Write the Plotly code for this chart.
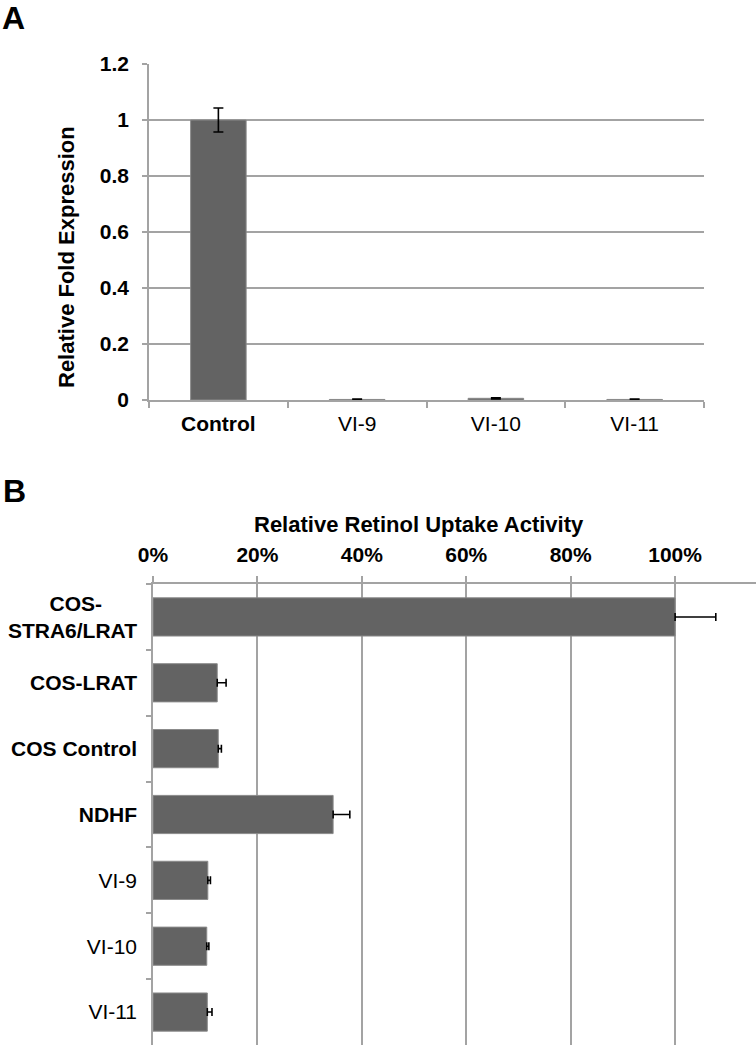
import plotly.graph_objects as go

# ---------------- data ----------------
a_categories = ["Control", "VI-9", "VI-10", "VI-11"]
a_values = [1.0, 0.002, 0.006, 0.002]
a_errors = [0.043, 0.001, 0.002, 0.001]
a_bold = [True, False, False, False]
a_yticks = [0, 0.2, 0.4, 0.6, 0.8, 1.0, 1.2]
a_yticklabels = ["0", "0.2", "0.4", "0.6", "0.8", "1", "1.2"]

b_categories = ["COS-STRA6/LRAT", "COS-LRAT", "COS Control", "NDHF", "VI-9", "VI-10", "VI-11"]
b_labels = ["COS-" + "&nbsp;" * 6 + "<br>STRA6/LRAT", "COS-LRAT", "COS Control", "NDHF", "VI-9", "VI-10", "VI-11"]
b_values = [1.0, 0.123, 0.125, 0.345, 0.105, 0.103, 0.104]
b_errors = [0.078, 0.017, 0.006, 0.032, 0.005, 0.004, 0.009]
b_bold = [True, True, True, True, False, False, False]
b_xticks = [0, 0.2, 0.4, 0.6, 0.8, 1.0]
b_xticklabels = ["0%", "20%", "40%", "60%", "80%", "100%"]

W, H = 756, 1050
FONT = "Liberation Sans, Arial, sans-serif"
BAR = "#636363"
GRID = "#a3a3a3"
FS = 21


def px(x):
    return x / W


def py(y):
    return 1 - y / H


def bold(t, b):
    return f"<b>{t}</b>" if b else t


fig = go.Figure()

fig.add_trace(go.Bar(
    x=a_categories, y=a_values, width=0.4,
    error_y=dict(type="data", array=a_errors, color="black", thickness=1.6, width=5),
    marker=dict(color=BAR, line=dict(color="#8a8a8a", width=1)),
    xaxis="x", yaxis="y", showlegend=False,
))

fig.add_trace(go.Bar(
    y=b_categories, x=b_values, orientation="h", width=0.58,
    error_x=dict(type="data", array=b_errors, arrayminus=[0] * len(b_errors),
                 color="black", thickness=1.6, width=4),
    marker=dict(color=BAR, line=dict(color="#8a8a8a", width=1)),
    xaxis="x2", yaxis="y2", showlegend=False,
))

tickfont = dict(size=FS, family=FONT, color="black")

fig.update_layout(
    width=W, height=H,
    margin=dict(l=0, r=0, t=0, b=0, pad=0),
    paper_bgcolor="white", plot_bgcolor="white",
    font=dict(family=FONT, color="black", size=FS),
    xaxis=dict(
        domain=[px(149), px(704)], anchor="y", automargin=False,
        type="category",
        tickmode="array", tickvals=a_categories,
        ticktext=[bold(c, b) for c, b in zip(a_categories, a_bold)],
        tickson="boundaries", ticks="outside", ticklen=6, tickcolor=GRID, tickwidth=1.5,
        showline=True, linecolor=GRID, linewidth=1.5,
        showgrid=False, zeroline=False,
        tickfont=tickfont, ticklabelstandoff=4,
    ),
    yaxis=dict(
        domain=[py(400), py(64)], anchor="x", automargin=False,
        range=[0, 1.2],
        tickmode="array", tickvals=a_yticks,
        ticktext=[f"<b>{t}</b>" for t in a_yticklabels],
        ticks="outside", ticklen=5, tickcolor=GRID, tickwidth=1.5,
        showline=True, linecolor=GRID, linewidth=1.5,
        showgrid=True, gridcolor=GRID, gridwidth=1.5,
        zeroline=False,
        tickfont=tickfont, ticklabelstandoff=9,
    ),
    xaxis2=dict(
        domain=[px(153), 1.0], anchor="y2", side="top", automargin=False,
        range=[0, 1.155],
        tickmode="array", tickvals=b_xticks,
        ticktext=[f"<b>{t}</b>" for t in b_xticklabels],
        ticks="outside", ticklen=6, tickcolor=GRID, tickwidth=1.5,
        showline=True, linecolor=GRID, linewidth=1.5,
        showgrid=True, gridcolor=GRID, gridwidth=1.5,
        zeroline=False,
        tickfont=tickfont, ticklabelstandoff=6,
    ),
    yaxis2=dict(
        domain=[py(1045), py(584)], anchor="x2", automargin=False,
        type="category", autorange="reversed",
        tickmode="array", tickvals=b_categories,
        ticktext=[bold(l, b) for l, b in zip(b_labels, b_bold)],
        tickson="boundaries", ticks="outside", ticklen=5, tickcolor=GRID, tickwidth=1.5,
        showline=True, linecolor=GRID, linewidth=1.5,
        showgrid=False, zeroline=False,
        tickfont=tickfont, ticklabelstandoff=10,
    ),
)

annotations = [
    dict(text="<b>A</b>", x=px(0), y=py(18), xanchor="left", yanchor="middle",
         font=dict(size=32, family=FONT, color="black")),
    dict(text="<b>B</b>", x=px(1), y=py(491), xanchor="left", yanchor="middle",
         font=dict(size=32, family=FONT, color="black")),
    dict(text="<b>Relative Fold Expression</b>", x=px(66), y=py(257), textangle=-90,
         xanchor="center", yanchor="middle",
         font=dict(size=22, family=FONT, color="black")),
    dict(text="<b>Relative Retinol Uptake Activity</b>", x=px(419), y=py(524),
         xanchor="center", yanchor="middle",
         font=dict(size=22, family=FONT, color="black")),
]
for a in annotations:
    a.update(xref="paper", yref="paper", showarrow=False)
fig.update_layout(annotations=annotations)

fig.write_html("out.html", config={"displayModeBar": False},
               post_script="document.body.style.margin='0';")
